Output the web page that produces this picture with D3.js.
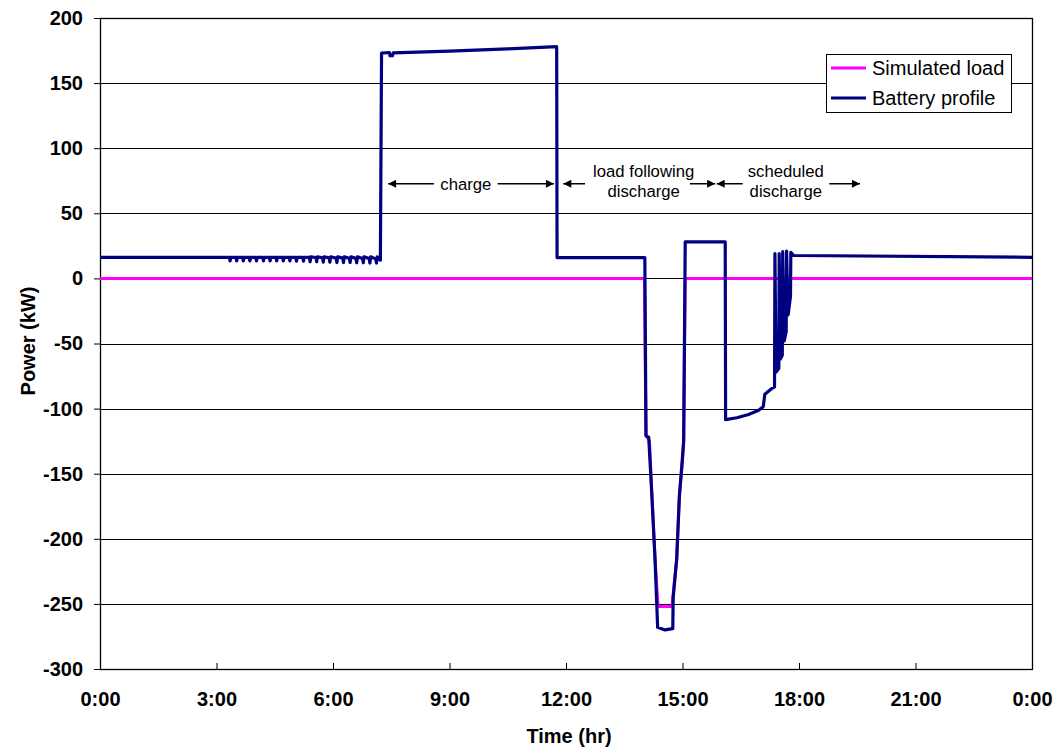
<!DOCTYPE html>
<html>
<head>
<meta charset="utf-8">
<script src="https://cdn.jsdelivr.net/npm/d3@7"></script>
<style>
  body { margin: 0; background: #fff; }
  svg { display: block; font-family: Arial, "Liberation Sans", sans-serif; }
</style>
</head>
<body>
<div id="vis-container"></div>
<script>
// hours since midnight, kW
const yTicks = [-300, -250, -200, -150, -100, -50, 0, 50, 100, 150, 200];
const xTicks = [0, 3, 6, 9, 12, 15, 18, 21, 24];
const xTickLabels = ["0:00", "3:00", "6:00", "9:00", "12:00", "15:00", "18:00", "21:00", "0:00"];

const simulatedLoad = [
    [0, 0], [14.02, 0], [14.06, -120], [14.15, -125], [14.21, -165], [14.29, -214],
    [14.37, -252], [14.73, -252], [14.85, -215], [14.92, -167], [15.0, -140],
    [15.03, -125], [15.07, 0], [24, 0]
];

const batteryProfile = [
    [0, 16.2], [3.33, 16.2], [3.35, 13.5], [3.37, 16.2], [3.50, 16.2], [3.52, 13.5], [3.54, 16.2],
    [3.67, 16.2], [3.69, 13.5], [3.71, 16.2], [3.84, 16.2], [3.86, 13.5], [3.88, 16.2],
    [4.01, 16.2], [4.03, 13.5], [4.05, 16.2], [4.19, 16.2], [4.21, 13.5], [4.23, 16.2],
    [4.36, 16.2], [4.38, 13.5], [4.40, 16.2], [4.53, 16.2], [4.55, 13.5], [4.57, 16.2],
    [4.70, 16.2], [4.72, 13.5], [4.74, 16.2], [4.87, 16.2], [4.89, 13.5], [4.91, 16.2],
    [5.04, 16.2], [5.06, 13.2], [5.08, 16.2], [5.22, 16.2], [5.24, 13.2], [5.26, 16.2],
    [5.39, 16.2], [5.41, 12.8], [5.43, 16.6], [5.56, 16.0], [5.58, 12.8], [5.60, 16.6],
    [5.73, 15.8], [5.75, 12.5], [5.77, 16.6], [5.90, 15.8], [5.92, 12.5], [5.94, 16.6],
    [6.08, 15.6], [6.10, 12.2], [6.12, 16.6], [6.25, 15.6], [6.27, 12.2], [6.29, 16.6],
    [6.42, 15.4], [6.44, 12.2], [6.46, 16.6], [6.59, 15.4], [6.61, 12.0], [6.63, 16.6],
    [6.76, 15.2], [6.78, 12.0], [6.80, 16.6], [6.93, 15.2], [6.95, 11.8], [6.97, 16.6],
    [7.10, 15.0], [7.12, 11.8], [7.14, 16.6], [7.22, 14.0],
    [7.25, 173], [7.45, 173.5], [7.47, 171], [7.53, 171], [7.55, 173.2],
    [9.0, 174.5], [10.5, 176.3], [11.76, 178], [11.77, 16], [14.03, 16],
    [14.06, -121], [14.13, -122], [14.21, -166], [14.29, -214], [14.36, -268],
    [14.55, -270], [14.75, -269], [14.76, -245], [14.85, -216], [14.92, -167],
    [14.98, -145], [15.03, -125], [15.07, 28], [16.10, 28], [16.11, -108.5],
    [16.4, -107], [16.7, -104.5], [16.95, -101.5], [17.08, -98.5], [17.12, -89],
    [17.3, -84.5], [17.37, -83.5], [17.38, 19], [17.41, -72], [17.48, -69],
    [17.49, 19], [17.52, -62], [17.57, -59], [17.58, 20.5], [17.62, -48],
    [17.67, -41], [17.68, 21], [17.72, -28], [17.78, -14], [17.79, 20],
    [17.86, 17.6], [24, 16.2]
];

const seriesNames = ["Simulated load", "Battery profile"];
const seriesColors = ["#ff00ff", "#000080"];

const W = 1057, H = 753;
const plot = { left: 100, right: 1032, top: 18, bottom: 669 };

const svg = d3.select("#vis-container")
    .append("svg")
    .attr("width", W)
    .attr("height", H);

const x = d3.scaleLinear().domain([0, 24]).range([plot.left, plot.right]);
const y = d3.scaleLinear().domain([-300, 200]).range([plot.bottom, plot.top]);

// gridlines
svg.append("g")
    .selectAll("line")
    .data(yTicks.filter(v => v > -300 && v < 200))
    .enter().append("line")
    .attr("x1", plot.left)
    .attr("x2", plot.right)
    .attr("y1", d => Math.round(y(d)) + 0.5)
    .attr("y2", d => Math.round(y(d)) + 0.5)
    .attr("stroke", "#000")
    .attr("stroke-width", 1);

// plot frame
svg.append("rect")
    .attr("x", plot.left + 0.5)
    .attr("y", plot.top + 0.5)
    .attr("width", plot.right - plot.left)
    .attr("height", plot.bottom - plot.top)
    .attr("fill", "none")
    .attr("stroke", "#000")
    .attr("stroke-width", 1.3);

const yAxis = svg.append("g")
    .attr("transform", `translate(${plot.left},0)`)
    .call(d3.axisLeft(y).tickValues(yTicks).tickSize(6).tickPadding(11)
        .tickFormat(d => String(d)));
yAxis.select(".domain").remove();
yAxis.selectAll("text")
    .style("font-size", "20px")
    .style("font-weight", "bold")
    .style("font-family", "Arial, 'Liberation Sans', sans-serif")
    .attr("fill", "#000");

const xAxis = svg.append("g")
    .attr("transform", `translate(0,${plot.bottom})`)
    .call(d3.axisBottom(x).tickValues(xTicks).tickSize(-6).tickPadding(23)
        .tickFormat((d, i) => xTickLabels[i]));
xAxis.select(".domain").remove();
xAxis.selectAll("text")
    .style("font-size", "20px")
    .style("font-weight", "bold")
    .style("font-family", "Arial, 'Liberation Sans', sans-serif")
    .attr("fill", "#000");

// axis titles
svg.append("text")
    .attr("text-anchor", "middle")
    .attr("transform", "rotate(-90)")
    .attr("x", -341)
    .attr("y", 35)
    .style("font-size", "20px")
    .style("font-weight", "bold")
    .text("Power (kW)");

svg.append("text")
    .attr("text-anchor", "middle")
    .attr("x", 569)
    .attr("y", 743)
    .style("font-size", "20px")
    .style("font-weight", "bold")
    .text("Time (hr)");

// series
const line = d3.line()
    .x(d => x(d[0]))
    .y(d => y(d[1]));

svg.append("path")
    .datum(simulatedLoad)
    .attr("fill", "none")
    .attr("stroke", seriesColors[0])
    .attr("stroke-width", 3)
    .attr("d", line);

svg.append("path")
    .datum(batteryProfile)
    .attr("fill", "none")
    .attr("stroke", seriesColors[1])
    .attr("stroke-width", 3.2)
    .attr("stroke-linejoin", "round")
    .attr("d", line);

// annotations
const arrowY = y(72.7);
const arrows = [
    [8.60, 7.42], [10.24, 11.69],
    [12.49, 11.93], [15.19, 15.84],
    [16.55, 15.88], [18.78, 19.57]
];
svg.append("defs").append("marker")
    .attr("id", "head")
    .attr("viewBox", "0 0 10 10")
    .attr("refX", 10)
    .attr("refY", 5)
    .attr("markerWidth", 10)
    .attr("markerHeight", 8)
    .attr("markerUnits", "userSpaceOnUse")
    .attr("orient", "auto")
    .append("path")
    .attr("d", "M0,0L10,5L0,10Z")
    .attr("fill", "#000");

svg.append("g")
    .selectAll("line")
    .data(arrows)
    .enter().append("line")
    .attr("x1", d => x(d[0]))
    .attr("x2", d => x(d[1]))
    .attr("y1", arrowY)
    .attr("y2", arrowY)
    .attr("stroke", "#000")
    .attr("stroke-width", 1.5)
    .attr("marker-end", "url(#head)");

const notes = [
    { t: 9.42, lines: ["charge"], base: [arrowY + 6] },
    { t: 14.0, lines: ["load following", "discharge"], base: [arrowY - 6.5, arrowY + 13.5] },
    { t: 17.66, lines: ["scheduled", "discharge"], base: [arrowY - 7, arrowY + 13] }
];
notes.forEach(n => {
    n.lines.forEach((s, i) => {
        svg.append("text")
            .attr("x", x(n.t))
            .attr("y", n.base[i])
            .attr("text-anchor", "middle")
            .style("font-size", "16.7px")
            .text(s);
    });
});

// legend
const legend = svg.append("g").attr("transform", "translate(826,54)");
legend.append("rect")
    .attr("x", 0.5)
    .attr("y", 0.5)
    .attr("width", 185)
    .attr("height", 58)
    .attr("fill", "#fff")
    .attr("stroke", "#000");
seriesNames.forEach((name, i) => {
    const ly = 14 + i * 30;
    legend.append("line")
        .attr("x1", 5).attr("x2", 40)
        .attr("y1", ly).attr("y2", ly)
        .attr("stroke", seriesColors[i])
        .attr("stroke-width", 3);
    legend.append("text")
        .attr("x", 46)
        .attr("y", ly + 7)
        .style("font-size", "20px")
        .text(name);
});
</script>
</body>
</html>
